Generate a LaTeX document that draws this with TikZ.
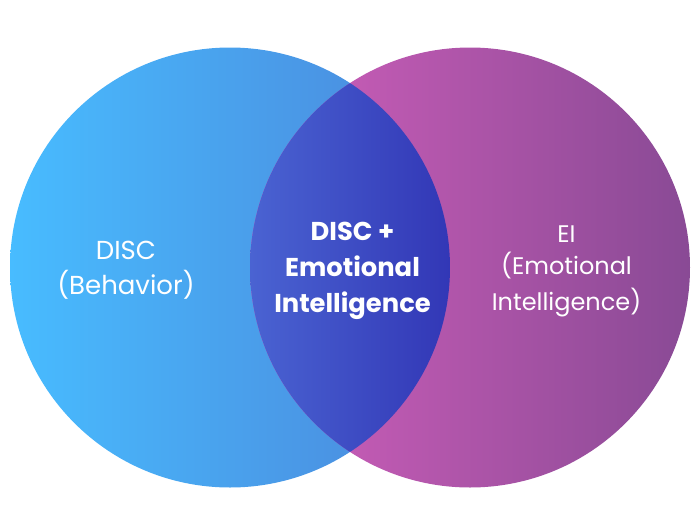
\documentclass[tikz,border=0pt]{standalone}
\usepackage{fontspec}
\setmainfont{Poppins}
\usepackage{tikz}

\definecolor{discleft}{HTML}{48BCFF}
\definecolor{discright}{HTML}{4B86DA}
\definecolor{eileft}{HTML}{D25FBC}
\definecolor{eiright}{HTML}{894A95}
\definecolor{lensleft}{HTML}{4A63D2}
\definecolor{lensright}{HTML}{3237B6}

\tikzset{
	label text/.style={text=white,align=center,font=\fontsize{24}{35.5}\selectfont},
	side text/.style={text=white,align=center,font=\fontsize{26}{35.5}\selectfont},
	mid text/.style={text=white,align=center,font=\fontsize{25.8}{36}\selectfont\bfseries}
}

\begin{document}
\begin{tikzpicture}[x=1pt,y=-1pt]

	\useasboundingbox (0,0) rectangle (697,523);

	\shade [left color=discleft,right color=discright] (230,267.5) circle [radius = 220];
	\shade [left color=eileft,right color=eiright] (470,267.5) circle [radius = 220];

	\begin{scope}
		\clip (230,267.5) circle [radius = 220];
		\clip (470,267.5) circle [radius = 220];
		\shade [left color=lensleft,right color=lensright] (250,47) rectangle (450,488);
	\end{scope}

	\node [side text] (disc) at (126,270) {DISC\\(Behavior)};
	\node [mid text] (both) at (352.5,270.5) {DISC +\\Emotional\\Intelligence};
	\node [label text] (ei) at (566.5,271) {EI\\[-3pt](Emotional\\Intelligence)};

\end{tikzpicture}
\end{document}
